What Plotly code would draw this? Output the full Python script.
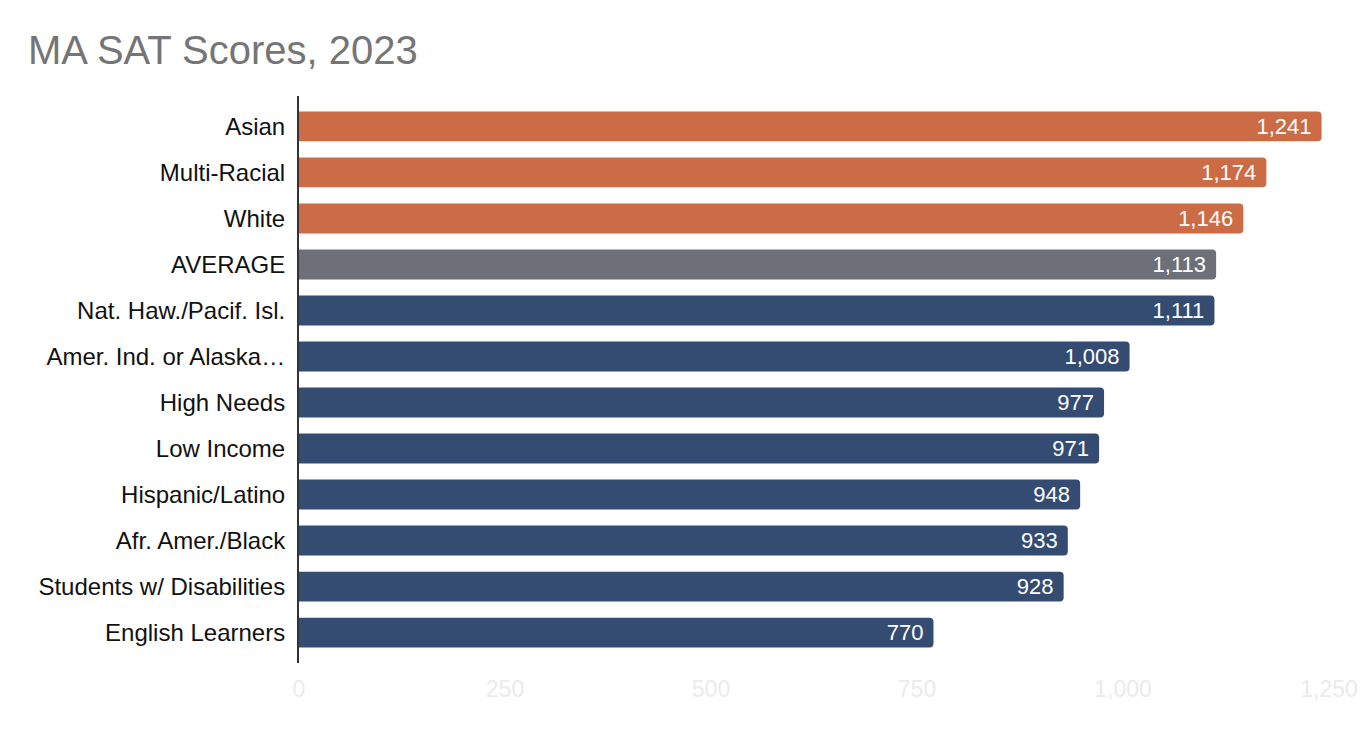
import plotly.graph_objects as go

categories = ["Asian", "Multi-Racial", "White", "AVERAGE", "Nat. Haw./Pacif. Isl.",
              "Amer. Ind. or Alaska…", "High Needs", "Low Income", "Hispanic/Latino",
              "Afr. Amer./Black", "Students w/ Disabilities", "English Learners"]
scores = [1241, 1174, 1146, 1113, 1111, 1008, 977, 971, 948, 933, 928, 770]
groups = ["above", "above", "above", "avg", "below", "below", "below", "below",
          "below", "below", "below", "below"]
tick_vals = [0, 250, 500, 750, 1000, 1250]

palette = {"above": "#CB6C47", "avg": "#6D7079", "below": "#344C72"}
colors = [palette[g] for g in groups]

fig = go.Figure(go.Bar(
    x=scores, y=categories, orientation="h",
    marker=dict(color=colors, line=dict(width=0)),
    text=scores, texttemplate="%{x:,}\u00a0", textposition="inside",
    insidetextanchor="end", textangle=0,
    textfont=dict(color="white", size=22, family="Liberation Sans, Arial"),
    hoverinfo="skip",
))

fig.update_layout(
    width=1360, height=730,
    margin=dict(l=299, r=31, t=96, b=67),
    paper_bgcolor="white", plot_bgcolor="white",
    bargap=0.35, barcornerradius=4,
    title=dict(text="MA SAT Scores, 2023", x=28 / 1360, xanchor="left",
               y=1 - 50 / 730, yanchor="middle",
               font=dict(size=40, color="#757575", family="Liberation Sans, Arial")),
    font=dict(family="Liberation Sans, Arial"),
    uniformtext=dict(minsize=22, mode="show"),
    showlegend=False,
)
fig.update_xaxes(range=[0, 1250], tickvals=tick_vals, tickformat=",",
                 showgrid=False, zeroline=False, showline=False, automargin=False,
                 ticklabelstandoff=10, ticklabeloverflow="allow",
                 tickfont=dict(size=23, color="#EBEBEB"), fixedrange=True)
fig.update_yaxes(autorange=False, range=[11.66, -0.66], showgrid=False, zeroline=False,
                 showline=True, linecolor="#333333", linewidth=2, automargin=False,
                 ticklabelstandoff=7,
                 tickfont=dict(size=24, color="#111111"), fixedrange=True)

fig.write_html(
    "out.html",
    config={"displayModeBar": False},
    post_script="document.body.style.margin='0';document.body.style.overflow='hidden';",
)
